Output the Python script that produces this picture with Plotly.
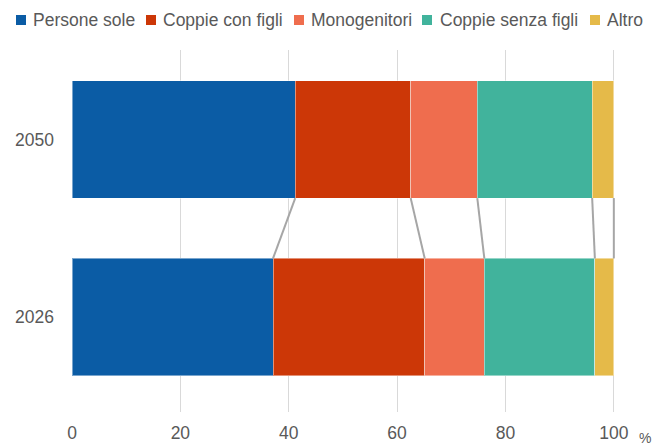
import plotly.graph_objects as go

years = ["2026", "2050"]
categories = ["Persone sole", "Coppie con figli", "Monogenitori", "Coppie senza figli", "Altro"]
values_2026 = [37.1, 28.0, 11.0, 20.4, 3.5]
values_2050 = [41.2, 21.3, 12.3, 21.2, 4.0]
x_ticks = [0, 20, 40, 60, 80, 100]
colors = ["#0b5ca5", "#cc3707", "#ef6d4e", "#41b39c", "#e5ba49"]

FONT = "Liberation Sans, Arial, sans-serif"
FS = 17.5
W, H = 665, 446
X_MAX = 100.4
ML, MT, MB = 72, 50, 34
MR = round(W - ML - 542 * X_MAX / 100)
BAR_W = 0.66

fig = go.Figure()
for i, cat in enumerate(categories):
    fig.add_trace(go.Bar(
        y=[0, 1], x=[values_2026[i], values_2050[i]], name=cat, orientation="h",
        width=BAR_W, marker=dict(color=colors[i], line=dict(color="rgba(255,255,255,0.45)", width=1)),
        showlegend=False, hoverinfo="x+name",
    ))

# connectors
cum26, cum50 = 0, 0
for i in range(len(categories)):
    cum26 += values_2026[i]
    cum50 += values_2050[i]
    fig.add_trace(go.Scatter(
        x=[cum50, cum26], y=[1 - BAR_W / 2, 0 + BAR_W / 2], mode="lines",
        line=dict(color="#a6a6a6", width=2), showlegend=False, hoverinfo="skip",
        cliponaxis=False,
    ))

# manual legend
sq_x = [16, 146, 294, 422, 590]
txt_x = [31, 161, 309, 438, 605]
pw = W - ML - MR
ph = H - MT - MB
def px2paper_x(px):
    return (px - ML) / pw
def px2paper_y(py):
    return (H - MB - py) / ph

for i, cat in enumerate(categories):
    fig.add_shape(type="rect", xref="paper", yref="paper",
                  x0=px2paper_x(sq_x[i]), x1=px2paper_x(sq_x[i] + 10),
                  y0=px2paper_y(25), y1=px2paper_y(15),
                  fillcolor=colors[i], line=dict(width=0))
    fig.add_annotation(xref="paper", yref="paper", x=px2paper_x(txt_x[i]), y=px2paper_y(20),
                       text=cat, showarrow=False, xanchor="left", yanchor="middle",
                       font=dict(family=FONT, size=FS, color="#595959"))

fig.add_annotation(xref="paper", yref="paper", x=px2paper_x(645), y=px2paper_y(438),
                   text="%", showarrow=False, xanchor="center", yanchor="middle",
                   font=dict(family=FONT, size=14, color="#595959"))

fig.update_layout(
    width=W, height=H, barmode="stack",
    margin=dict(l=ML, r=MR, t=MT, b=MB, pad=0, autoexpand=False),
    paper_bgcolor="white", plot_bgcolor="white",
    font=dict(family=FONT, size=FS, color="#595959"),
    xaxis=dict(range=[0, X_MAX], tickvals=x_ticks, ticktext=[str(t) for t in x_ticks],
               showgrid=True, gridcolor="#d9d9d9", gridwidth=1, zeroline=False,
               showline=False, ticks="", ticklabelstandoff=8, automargin=False,
               tickfont=dict(family=FONT, size=FS, color="#595959")),
    yaxis=dict(range=[-0.535, 1.504], tickvals=[0, 1], ticktext=years,
               showgrid=False, zeroline=False, showline=False, ticks="",
               ticklabelstandoff=17, automargin=False,
               tickfont=dict(family=FONT, size=FS, color="#595959")),
)

fig.write_html("out.html", config={"displayModeBar": False},
               post_script="document.body.style.margin='0';document.body.style.overflow='hidden';")
